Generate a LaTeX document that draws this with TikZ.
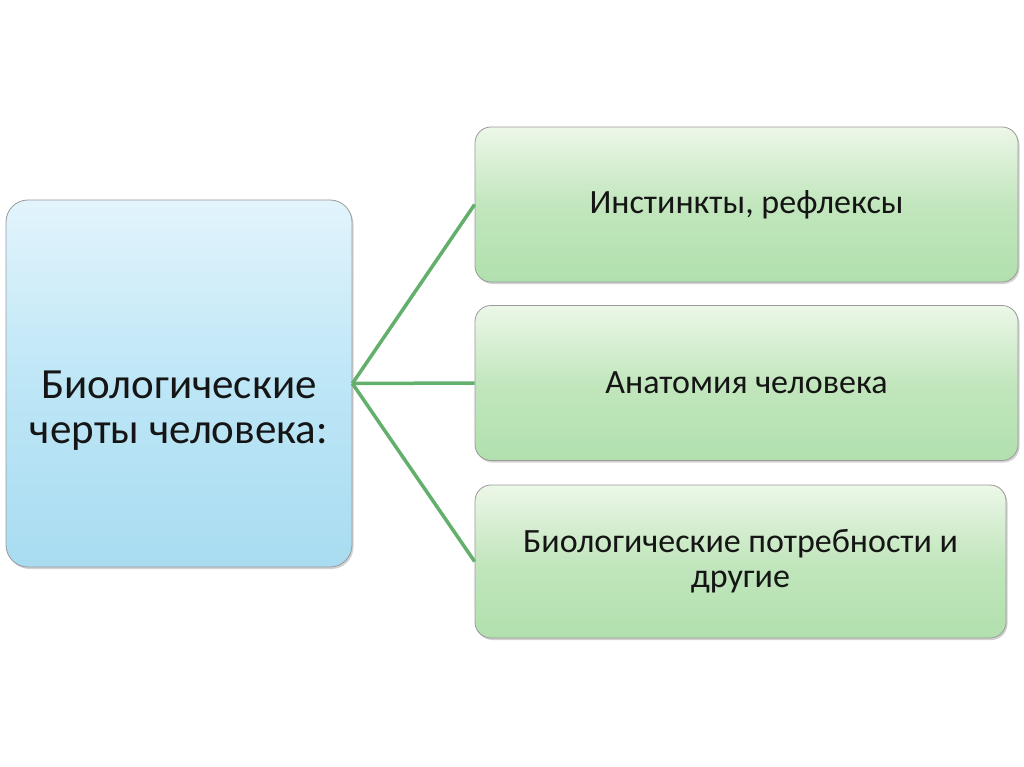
\documentclass[tikz,border=0pt]{standalone}
\usepackage{fontspec}
\setmainfont{Carlito}
\usetikzlibrary{shadows}
\definecolor{bluetop}{HTML}{E2F4FC}
\definecolor{bluemid}{HTML}{BDE6F6}
\definecolor{bluebot}{HTML}{A9DCF1}
\definecolor{greentop}{HTML}{ECF7E8}
\definecolor{greenmid}{HTML}{C2E6BD}
\definecolor{greenbot}{HTML}{B1E0AE}
\definecolor{linkgreen}{HTML}{62B06C}
\definecolor{edgegray}{HTML}{9A9A9A}
\definecolor{txt}{HTML}{151515}
\tikzset{
  boxbase/.style={draw=edgegray, line width=0.8pt, rounded corners=22pt, inner sep=0pt,
    drop shadow={shadow xshift=1.5pt, shadow yshift=-2pt, opacity=0.35, fill=gray}},
  leftbox/.style={boxbase, top color=bluetop, bottom color=bluebot, middle color=bluemid,
    minimum width=346pt, minimum height=367pt},
  lefttext/.style={align=center, text=txt, inner sep=0pt,
    font=\fontsize{43}{45}\selectfont},
  rightbox/.style={boxbase, top color=greentop, bottom color=greenbot, middle color=greenmid,
    rounded corners=16pt, minimum height=155pt, align=center, text=txt,
    font=\fontsize{34}{35}\selectfont},
  link/.style={draw=linkgreen, line width=3.5pt}
}
\begin{document}
\begin{tikzpicture}[x=1pt,y=-1pt]
\useasboundingbox[fill=white] (0,0) rectangle (1024,767);
\node[leftbox] (L) at (179,383.5) {};
\node[lefttext] (Lt) at ([yshift=-27pt]L.center) {Биологические\\черты человека:};
\node[rightbox, minimum width=543pt] (A) at (746.5,204.5) {Инстинкты, рефлексы};
\node[rightbox, minimum width=543pt] (B) at (746.5,383) {Анатомия человека};
\node[rightbox, minimum width=531pt, minimum height=153pt] (C) at (740.5,561.5) {Биологические потребности и\\другие};
\draw[link] (L.east) -- (A.west);
\draw[link] (L.east) -- (B.west);
\draw[link] (L.east) -- (C.west);
\end{tikzpicture}
\end{document}
